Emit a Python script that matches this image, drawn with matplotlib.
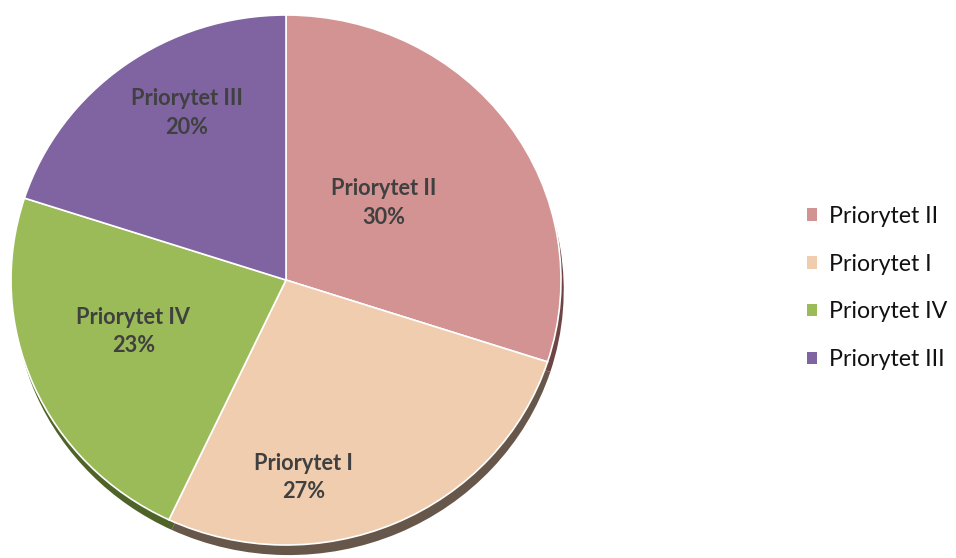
import matplotlib
matplotlib.use("Agg")
import matplotlib.pyplot as plt
from matplotlib.patches import Patch

categories = ["Priorytet II", "Priorytet I", "Priorytet IV", "Priorytet III"]
values = [30, 27, 23, 20]
colors = ["#D39392", "#F0CDAE", "#9BBB59", "#8064A2"]
shadow_colors = ["#6E4544", "#66574A", "#4F6228", "#463660"]
# label positions (axes-normalised, pie radius = 1)
label_pos = [(0.355, 0.29), (0.065, -0.745), (-0.555, -0.195), (-0.36, 0.63)]

plt.rcParams['font.family'] = ['Lato', 'DejaVu Sans']

fig = plt.figure(figsize=(9.56, 5.58), dpi=100)
W, H = 956, 558
cx, cy, rx, ry = 286, 280, 275, 265
ax = fig.add_axes([(cx - rx) / W, (H - cy - ry) / H, 2 * rx / W, 2 * ry / H])

# depth / shadow
ax.pie(values, colors=shadow_colors, startangle=90, counterclock=False,
       center=(0.01, -0.038), radius=1.0,
       wedgeprops=dict(linewidth=0))
wedges, _ = ax.pie(values, colors=colors, startangle=90, counterclock=False,
                   radius=1.0, wedgeprops=dict(edgecolor="white", linewidth=1.2))

for cat, v, (x, y) in zip(categories, values, label_pos):
    ax.text(x, y, f"{cat}\n{v}%", ha="center", va="center", fontsize=15.7,
            fontweight="bold", color="#404040", linespacing=1.45)

ax.set_aspect('auto')
ax.set_xlim(-1, 1)
ax.set_ylim(-1, 1)
ax.set_axis_off()

handles = [Patch(facecolor=c, edgecolor="none") for c in colors]
fig.legend(handles, categories, loc="center left", bbox_to_anchor=(807 / W, 1 - 288 / H),
           frameon=False, fontsize=16.7, handlelength=0.45, handleheight=0.45,
           handletextpad=0.5, labelspacing=1.15, labelcolor="#111111",
           borderpad=0, borderaxespad=0)

fig.savefig("out.png", dpi=100)
